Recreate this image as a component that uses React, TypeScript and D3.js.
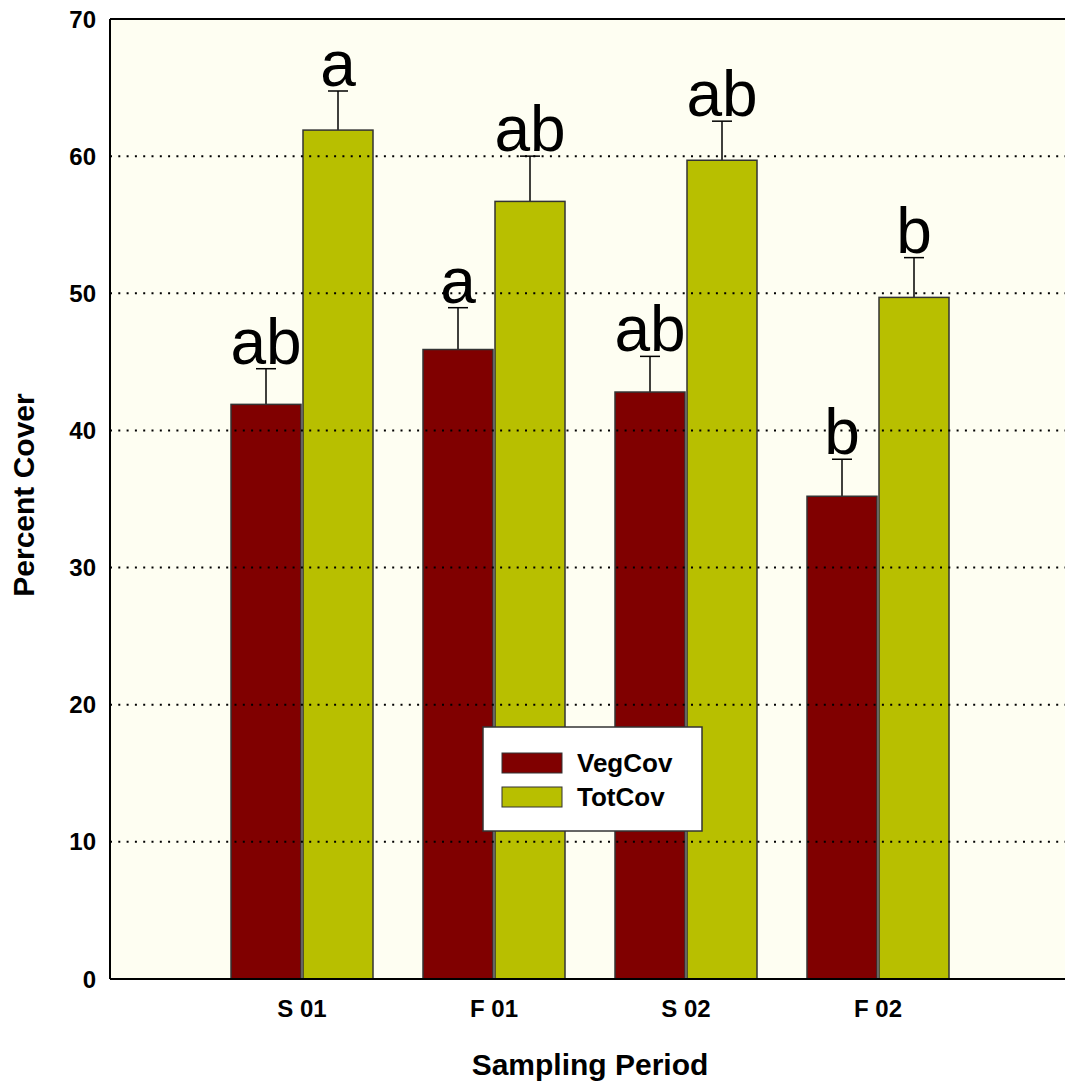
import React from 'react';
import * as d3 from 'd3';

// Sampling periods and measured means (percent cover)
const periods = ['S 01', 'F 01', 'S 02', 'F 02'];
const vegCov = [41.9, 45.9, 42.8, 35.2];
const vegErr = [2.6, 3.05, 2.6, 2.7];
const vegLetters = ['ab', 'a', 'ab', 'b'];
const totCov = [61.9, 56.7, 59.7, 49.7];
const totErr = [2.85, 3.3, 2.85, 2.9];
const totLetters = ['a', 'ab', 'ab', 'b'];
const yTicks = [0, 10, 20, 30, 40, 50, 60, 70];

const seriesNames = ['VegCov', 'TotCov'];
const seriesColors = ['#800000', '#b8bf00'];

const width = 1065;
const height = 1085;
const margin = { top: 19, right: 0, bottom: 106, left: 110 };
const font = 'Arial, "Liberation Sans", sans-serif';

const App: React.FC = () => {
  const innerBottom = height - margin.bottom;

  // the plot runs a little past the right edge of the picture
  const x = d3.scaleLinear().domain([0, periods.length + 1]).range([margin.left, 1070]);
  const y = d3.scaleLinear().domain([0, 70]).range([innerBottom, margin.top]);

  const barW = 70;
  const gap = 2;

  const series = [
    { vals: vegCov, err: vegErr, letters: vegLetters, color: seriesColors[0], off: -barW - gap / 2 },
    { vals: totCov, err: totErr, letters: totLetters, color: seriesColors[1], off: gap / 2 },
  ];

  return (
    <svg
      width={width}
      height={height}
      style={{ position: 'absolute', left: 0, top: 0, background: '#fff' }}
      fontFamily={font}
    >
      {/* plot background */}
      <rect
        x={margin.left}
        y={margin.top}
        width={width - margin.left}
        height={innerBottom - margin.top}
        fill="#fefef2"
      />

      {/* bars, error bars and letters */}
      {series.map((s, si) =>
        periods.map((p, i) => {
          const cx = x(i + 1);
          const bx = cx + s.off;
          const top = y(s.vals[i]);
          const errTop = y(s.vals[i] + s.err[i]);
          const mid = bx + barW / 2;
          return (
            <g key={`${si}-${p}`}>
              <line x1={mid} x2={mid} y1={top} y2={errTop} stroke="#000" strokeWidth={1.5} />
              <line x1={mid - 10} x2={mid + 10} y1={errTop} y2={errTop} stroke="#000" strokeWidth={1.5} />
              <rect
                x={bx}
                y={top}
                width={barW}
                height={innerBottom - top}
                fill={s.color}
                stroke="#333"
                strokeWidth={1.5}
              />
              <text
                x={mid}
                y={errTop - 5}
                textAnchor="middle"
                fontSize={64}
                fill="#000"
              >
                {s.letters[i]}
              </text>
            </g>
          );
        })
      )}

      {/* dotted grid lines drawn on top */}
      {yTicks.filter(t => t > 0 && t < 70).map(t => (
        <line
          key={`g${t}`}
          x1={margin.left}
          x2={width}
          y1={y(t)}
          y2={y(t)}
          stroke="#000"
          strokeWidth={2}
          strokeDasharray="2 6.3"
        />
      ))}

      {/* frame */}
      <line x1={margin.left} x2={width} y1={margin.top} y2={margin.top} stroke="#000" strokeWidth={2} />
      <line x1={margin.left} x2={width} y1={innerBottom} y2={innerBottom} stroke="#000" strokeWidth={2} />
      <line x1={margin.left} x2={margin.left} y1={margin.top} y2={innerBottom} stroke="#000" strokeWidth={2} />

      {/* y tick labels */}
      {yTicks.map(t => (
        <text
          key={`y${t}`}
          x={96}
          y={y(t)}
          dy="0.36em"
          textAnchor="end"
          fontSize={24}
          fontWeight="bold"
        >
          {t}
        </text>
      ))}

      {/* x tick labels */}
      {periods.map((p, i) => (
        <text
          key={`x${p}`}
          x={x(i + 1)}
          y={1017}
          textAnchor="middle"
          fontSize={24}
          fontWeight="bold"
        >
          {p}
        </text>
      ))}

      {/* axis titles */}
      <text x={590} y={1075} textAnchor="middle" fontSize={30} fontWeight="bold">
        Sampling Period
      </text>
      <text
        transform={`translate(34, 495) rotate(-90)`}
        textAnchor="middle"
        fontSize={30}
        fontWeight="bold"
      >
        Percent Cover
      </text>

      {/* legend */}
      <g transform="translate(483, 727)">
        <rect x={0} y={0} width={219} height={104} fill="#fff" stroke="#333" strokeWidth={1.5} />
        {seriesNames.map((n, i) => (
          <g key={n} transform={`translate(19, ${26 + i * 34})`}>
            <rect x={0} y={0} width={60} height={20} fill={seriesColors[i]} stroke="#333" strokeWidth={1} />
            <text x={75} y={10} dy="0.36em" fontSize={26} fontWeight="bold">
              {n}
            </text>
          </g>
        ))}
      </g>
    </svg>
  );
};

export default App;
